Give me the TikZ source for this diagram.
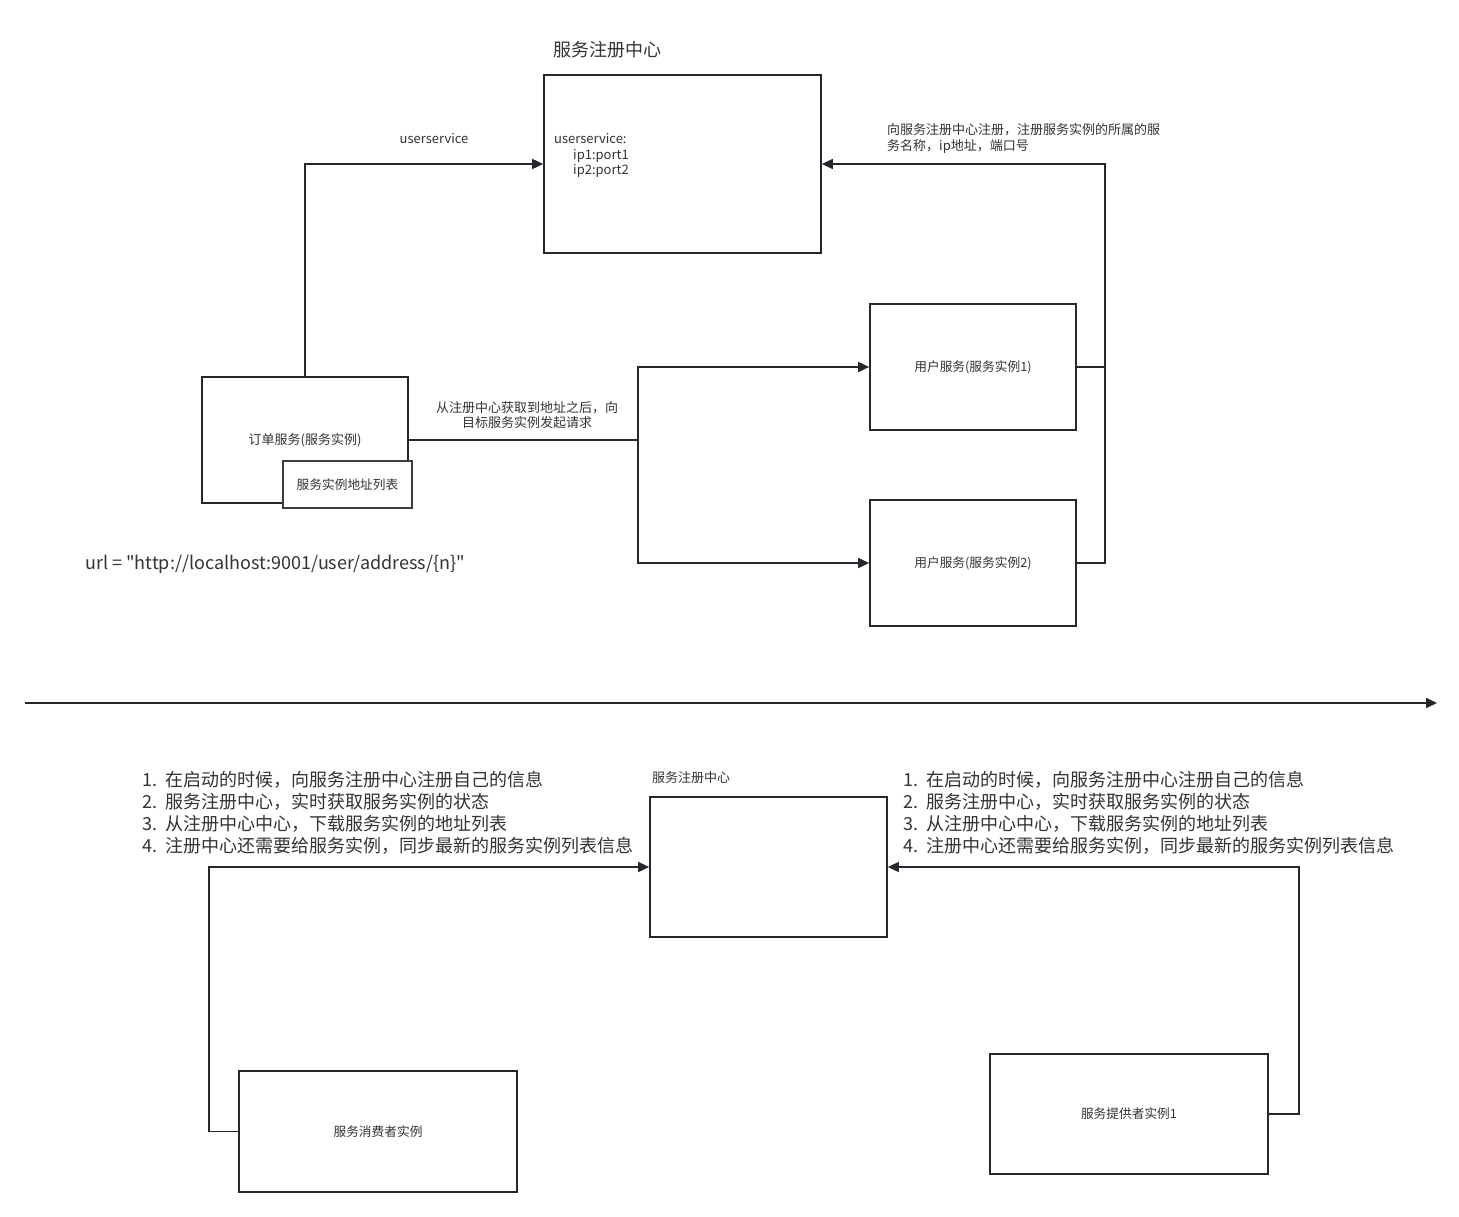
\documentclass[tikz,border=0pt]{standalone}
\usepackage{fontspec}
\setmainfont{Noto Sans CJK SC}
\newfontfamily\plainquotes{Noto Sans CJK SC}
\usetikzlibrary{arrows.meta}
\definecolor{ink}{HTML}{24282C}
\definecolor{txt}{HTML}{333333}
\definecolor{subedge}{HTML}{3A3E44}
\tikzset{
  box/.style={draw=ink, line width=1.7pt, fill=white, inner sep=0pt, text=txt,
              font=\fontsize{12.7}{15}\selectfont},
  lbl/.style={text=txt, inner sep=0pt, font=\fontsize{13}{15.8}\selectfont},
  biglbl/.style={text=txt, inner sep=0pt, font=\fontsize{18}{22}\selectfont},
  wire/.style={draw=ink, line width=1.7pt},
  arr/.style={wire, -{Triangle[length=11pt,width=10pt]}},
}
\begin{document}
\begin{tikzpicture}[x=1pt,y=-1pt]
\useasboundingbox[fill=white] (0,0) rectangle (1459,1217);

% ---------- upper part: registry, order service, user services ----------
\node[biglbl] (title) at (607,50) {服务注册中心};
\node[box, minimum width=277pt, minimum height=178pt] (reg) at (682.5,164) {};
\node[lbl, anchor=north west, align=left] (regtxt) at (554,133)
  {userservice:\\\hspace*{19pt}ip1:port1\\\hspace*{19pt}ip2:port2};

\node[box, minimum width=206pt, minimum height=126pt] (order) at (305,440) {};
\node[lbl] (ordertxt) at (305,440) {订单服务(服务实例)};
\node[box, draw=subedge, minimum width=129pt, minimum height=47pt] (addr) at (347.5,484.5) {服务实例地址列表};

\node[box, minimum width=206pt, minimum height=126pt] (u1) at (973,367) {用户服务(服务实例1)};
\node[box, minimum width=206pt, minimum height=126pt] (u2) at (973,563) {用户服务(服务实例2)};

\node[lbl] (uslbl) at (434,139) {userservice};
\node[lbl, align=center] (reqlbl) at (527,415) {从注册中心获取到地址之后，向\\目标服务实例发起请求};
\node[lbl, anchor=north west, align=left] (reglbl) at (887,123)
  {向服务注册中心注册，注册服务实例的所属的服\\务名称，ip地址，端口号};

\node[biglbl, anchor=west, font=\plainquotes\fontsize{18}{22}\selectfont] (url) at (85,564)
  {url = "http://localhost:9001/user/address/\{n\}"};

% order service asks the registry
\draw[arr] (order.north) |- (reg.west);
% order service calls the user instances
\coordinate (split) at (638,440);
\draw[wire] (order.east) -- (split);
\draw[arr] (split) |- (u1.west);
\draw[arr] (split) |- (u2.west);
% user instances register themselves
\coordinate (rj1) at (1105,367);
\draw[wire] (u1.east) -- (rj1);
\draw[arr] (u2.east) -- (1105,563) |- (reg.east);

% ---------- divider ----------
\coordinate (dl) at (25,703);
\coordinate (dr) at (1437,703);
\draw[arr] (dl) -- (dr);

% ---------- lower part ----------
\node[lbl, anchor=south west] (reg2lbl) at (652,784) {服务注册中心};
\node[box, minimum width=237pt, minimum height=140pt] (reg2) at (768.5,867) {};
\node[box, minimum width=278pt, minimum height=121pt] (cons) at (378,1131.5) {服务消费者实例};
\node[box, minimum width=278pt, minimum height=120pt] (prov) at (1129,1114) {服务提供者实例1};

\node[biglbl, anchor=north west, align=left] (listl) at (142,771)
  {\makebox[23pt][l]{1.}在启动的时候，向服务注册中心注册自己的信息\\
   \makebox[23pt][l]{2.}服务注册中心，实时获取服务实例的状态\\
   \makebox[23pt][l]{3.}从注册中心中心，下载服务实例的地址列表\\
   \makebox[23pt][l]{4.}注册中心还需要给服务实例，同步最新的服务实例列表信息};
\node[biglbl, anchor=north west, align=left] (listr) at (903,771)
  {\makebox[23pt][l]{1.}在启动的时候，向服务注册中心注册自己的信息\\
   \makebox[23pt][l]{2.}服务注册中心，实时获取服务实例的状态\\
   \makebox[23pt][l]{3.}从注册中心中心，下载服务实例的地址列表\\
   \makebox[23pt][l]{4.}注册中心还需要给服务实例，同步最新的服务实例列表信息};

\draw[arr] (cons.west) -- ++(-29,0) |- (reg2.west);
\draw[arr] (prov.east) -- ++(30,0) |- (reg2.east);
\end{tikzpicture}
\end{document}
